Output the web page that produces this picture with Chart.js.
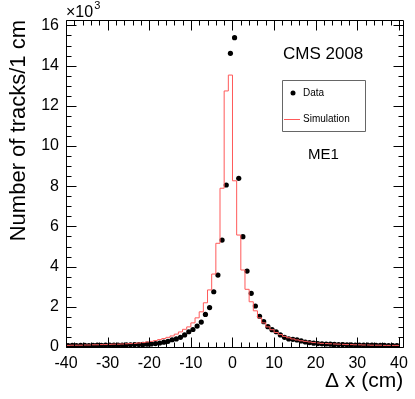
<!DOCTYPE html>
<html>
<head>
<meta charset="utf-8">
<script src="https://cdn.jsdelivr.net/npm/chart.js@4.4.1/dist/chart.umd.min.js"></script>
<style>
  html, body { margin: 0; padding: 0; background: #fff; }
  canvas { display: block; }
</style>
</head>
<body>
<canvas id="chart" width="415" height="399"></canvas>
<script>
// 1 cm bins from -40 to 40 cm
var binEdges = [];
for (var e = -40; e <= 40; e++) binEdges.push(e);

// tracks per bin, in units of 10^3 (bins -40..39)
var dataCounts = [
    0.07, 0.08, 0.07, 0.08, 0.08, 0.07, 0.08, 0.09, 0.08, 0.09,
    0.09, 0.10, 0.10, 0.10, 0.11, 0.11, 0.12, 0.12, 0.13, 0.14,
    0.15, 0.17, 0.20, 0.24, 0.28, 0.36, 0.40, 0.48, 0.60, 0.76,
    0.87, 1.04, 1.24, 1.62, 1.96, 2.75, 3.58, 5.32, 8.06, 14.61,
    15.39, 8.39, 5.49, 3.78, 2.67, 2.04, 1.53, 1.26, 1.01, 0.86,
    0.76, 0.60, 0.48, 0.40, 0.38, 0.35, 0.30, 0.25, 0.22, 0.19,
    0.17, 0.16, 0.15, 0.14, 0.13, 0.12, 0.12, 0.11, 0.11, 0.10,
    0.10, 0.09, 0.09, 0.09, 0.08, 0.08, 0.08, 0.07, 0.07, 0.07
];
var simCounts = [
    0.08, 0.08, 0.09, 0.09, 0.09, 0.10, 0.10, 0.11, 0.11, 0.12,
    0.12, 0.13, 0.14, 0.14, 0.15, 0.16, 0.17, 0.18, 0.20, 0.22,
    0.25, 0.28, 0.32, 0.37, 0.42, 0.48, 0.55, 0.64, 0.75, 0.88,
    1.00, 1.20, 1.45, 1.75, 2.20, 2.84, 3.63, 5.16, 7.90, 12.74,
    13.53, 8.27, 5.57, 3.83, 2.87, 2.25, 1.80, 1.45, 1.20, 1.00,
    0.86, 0.72, 0.62, 0.53, 0.46, 0.40, 0.35, 0.31, 0.28, 0.25,
    0.22, 0.20, 0.18, 0.17, 0.16, 0.15, 0.14, 0.13, 0.12, 0.12,
    0.11, 0.11, 0.10, 0.10, 0.09, 0.09, 0.09, 0.08, 0.08, 0.08
];

var xMajorTicks = [-40, -30, -20, -10, 0, 10, 20, 30, 40];
var yMajorTicks = [0, 2, 4, 6, 8, 10, 12, 14, 16];

var FONT = '"Liberation Sans", Arial, Helvetica, sans-serif';

// ROOT style frame: ticks inside on all four sides, plus extra text and legend
var rootFrame = {
    id: 'rootFrame',
    afterDatasetsDraw: function (chart) {
        var ctx = chart.ctx, a = chart.chartArea;
        var xs = chart.scales.x, ys = chart.scales.y;
        var L = Math.round(a.left) + 0.5, R = Math.round(a.right) + 0.5;
        var T = Math.round(a.top) + 0.5, B = Math.round(a.bottom) + 0.5;
        ctx.save();
        ctx.strokeStyle = '#000';
        ctx.lineWidth = 1;
        ctx.beginPath();
        ctx.rect(L, T, R - L, B - T);

        // x ticks (bottom and top)
        for (var v = -40; v <= 40; v += 2) {
            var px = Math.round(xs.getPixelForValue(v)) + 0.5;
            var len = xMajorTicks.indexOf(v) >= 0 ? 10 : 5;
            ctx.moveTo(px, B); ctx.lineTo(px, B - len);
            ctx.moveTo(px, T); ctx.lineTo(px, T + len);
        }
        // y ticks (left and right)
        for (var w = 0; w <= 16; w += 0.5) {
            var py = Math.round(ys.getPixelForValue(w)) + 0.5;
            var ln = yMajorTicks.indexOf(w) >= 0 ? 10 : 5;
            ctx.moveTo(L, py); ctx.lineTo(L + ln, py);
            ctx.moveTo(R, py); ctx.lineTo(R - ln, py);
        }
        ctx.stroke();

        // exponent of the y axis
        ctx.fillStyle = '#000';
        ctx.textBaseline = 'alphabetic';
        ctx.textAlign = 'left';
        ctx.font = '16px ' + FONT;
        ctx.fillText('\u00d710', 66, 17);
        var wx = ctx.measureText('\u00d710').width;
        ctx.font = '11px ' + FONT;
        ctx.fillText('3', 66 + wx + 1, 9);

        ctx.textBaseline = 'middle';
        ctx.font = '17px ' + FONT;
        ctx.fillText('CMS 2008', 283, 54);
        ctx.font = '15px ' + FONT;
        ctx.fillText('ME1', 308, 155);

        // legend box
        ctx.strokeStyle = '#666';
        ctx.fillStyle = '#fff';
        ctx.beginPath();
        ctx.rect(282.5, 80.5, 83, 51);
        ctx.fill();
        ctx.stroke();
        ctx.fillStyle = '#000';
        ctx.beginPath();
        ctx.arc(293, 93, 2.5, 0, Math.PI * 2);
        ctx.fill();
        ctx.strokeStyle = 'rgb(255, 90, 90)';
        ctx.beginPath();
        ctx.moveTo(284, 119.5);
        ctx.lineTo(300, 119.5);
        ctx.stroke();
        ctx.font = '10px ' + FONT;
        ctx.fillText('Data', 303, 93);
        ctx.fillText('Simulation', 303, 119.5);
        ctx.restore();
    }
};

var ctx = document.getElementById('chart').getContext('2d');
var chart = new Chart(ctx, {
    type: 'line',
    data: {
        datasets: [{
            label: 'Simulation',
            data: binEdges.map(function (edge, i) {
                return { x: edge, y: simCounts[Math.min(i, simCounts.length - 1)] };
            }),
            stepped: 'after',
            borderColor: 'rgb(255, 90, 90)',
            borderWidth: 1,
            pointRadius: 0,
            fill: false
        }, {
            label: 'Data',
            data: dataCounts.map(function (v, i) {
                return { x: (binEdges[i] + binEdges[i + 1]) / 2, y: v };
            }),
            showLine: false,
            pointRadius: 2.6,
            pointBorderWidth: 0,
            pointBackgroundColor: '#000'
        }]
    },
    options: {
        responsive: false,
        animation: false,
        events: [],
        layout: { padding: { top: 20, right: 9, left: 0, bottom: 0 } },
        plugins: {
            legend: { display: false },
            tooltip: { enabled: false }
        },
        scales: {
            x: {
                type: 'linear',
                min: -40,
                max: 41,
                afterFit: function (scale) { scale.height = 52; },
                grid: { display: false, drawTicks: false },
                border: { display: false },
                ticks: {
                    stepSize: 10,
                    includeBounds: false,
                    maxRotation: 0,
                    padding: 7,
                    color: '#000',
                    font: { family: FONT, size: 16 }
                },
                title: {
                    display: true,
                    text: '\u0394 x (cm)',
                    align: 'end',
                    color: '#000',
                    font: { family: FONT, size: 21 },
                    padding: { top: 0, bottom: 5 }
                }
            },
            y: {
                type: 'linear',
                min: 0,
                max: 16.27,
                afterFit: function (scale) { scale.width = 66; },
                grid: { display: false, drawTicks: false },
                border: { display: false },
                ticks: {
                    stepSize: 2,
                    includeBounds: false,
                    padding: 7,
                    color: '#000',
                    font: { family: FONT, size: 16 }
                },
                title: {
                    display: true,
                    text: 'Number of tracks/1 cm',
                    align: 'end',
                    color: '#000',
                    font: { family: FONT, size: 22 },
                    padding: { top: 6, bottom: 0 }
                }
            }
        }
    },
    plugins: [rootFrame]
});
</script>
</body>
</html>
